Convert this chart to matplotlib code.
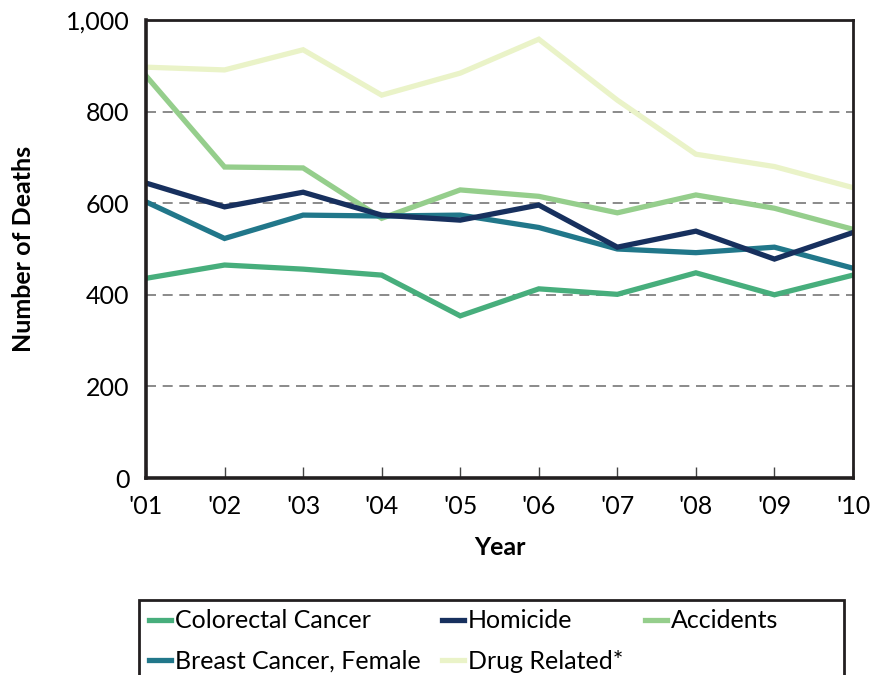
import matplotlib.pyplot as plt
from matplotlib.patches import Rectangle

years = ["'01", "'02", "'03", "'04", "'05", "'06", "'07", "'08", "'09", "'10"]

colorectal = [436, 465, 456, 443, 354, 413, 401, 448, 400, 443]
homicide = [644, 592, 624, 574, 563, 596, 504, 539, 478, 536]
accidents = [878, 679, 677, 567, 629, 615, 579, 618, 589, 543]
breast = [603, 523, 574, 572, 574, 547, 500, 492, 504, 458]
drug = [897, 891, 935, 836, 884, 958, 825, 707, 680, 634]

plt.rcParams['font.family'] = ['Lato', 'DejaVu Sans']

W, H = 873, 675
fig = plt.figure(figsize=(8.73, 6.75), dpi=100)
ax = fig.add_axes([146 / W, 1 - 478 / H, 707 / W, 458 / H])

x = list(range(len(years)))
lw = 3.8
l_drug, = ax.plot(x, drug, color="#EAF3C8", lw=lw, label="Drug Related*", solid_joinstyle="miter")
l_acc, = ax.plot(x, accidents, color="#95CE8C", lw=lw, label="Accidents", solid_joinstyle="miter")
l_col, = ax.plot(x, colorectal, color="#47AE7C", lw=lw, label="Colorectal Cancer", solid_joinstyle="miter")
l_br, = ax.plot(x, breast, color="#21778A", lw=lw, label="Breast Cancer, Female", solid_joinstyle="miter")
l_hom, = ax.plot(x, homicide, color="#17305E", lw=lw, label="Homicide", solid_joinstyle="miter")

ax.set_xlim(0, len(years) - 1)
ax.set_ylim(0, 1000)
ax.set_yticks([0, 200, 400, 600, 800, 1000])
ax.set_yticklabels(["0", "200", "400", "600", "800", "1,000"])
ax.set_xticks(x)
ax.set_xticklabels(years)

for v in [200, 400, 600, 800]:
    ax.axhline(v, color="#777777", lw=1.2, ls=(0, (6, 4)), zorder=0)

ax.tick_params(axis="y", length=0, pad=12, labelsize=18)
ax.tick_params(axis="x", direction="in", length=8, width=1, color="#444444", pad=12, labelsize=18)

for s in ["left", "bottom"]:
    ax.spines[s].set_linewidth(2.6)
for s in ["top", "right"]:
    ax.spines[s].set_linewidth(2.0)
for s in ax.spines.values():
    s.set_color("#231F20")
    s.set_zorder(5)

ax.set_xlabel("Year", fontsize=18, fontweight="bold", labelpad=13)
ax.set_ylabel("Number of Deaths", fontsize=18, fontweight="bold", labelpad=22)

# legend box runs past the bottom edge like in the original
fig.patches.append(Rectangle((139 / W, -0.05), (844 - 139) / W, 0.05 + 1 - 600 / H,
                             transform=fig.transFigure, fill=False,
                             edgecolor="#231F20", lw=2.0))

handles = [l_col, l_br, l_hom, l_drug, l_acc]
leg = fig.legend(handles=handles, labels=[h.get_label() for h in handles],
                 ncol=3, loc="upper left", bbox_to_anchor=(141 / W, 1 - 602 / H),
                 borderaxespad=0, fontsize=18, handlelength=0.9, handletextpad=0.15,
                 columnspacing=0.85, labelspacing=0.7, borderpad=0.3,
                 frameon=False)

fig.savefig("out.png", dpi=100)
